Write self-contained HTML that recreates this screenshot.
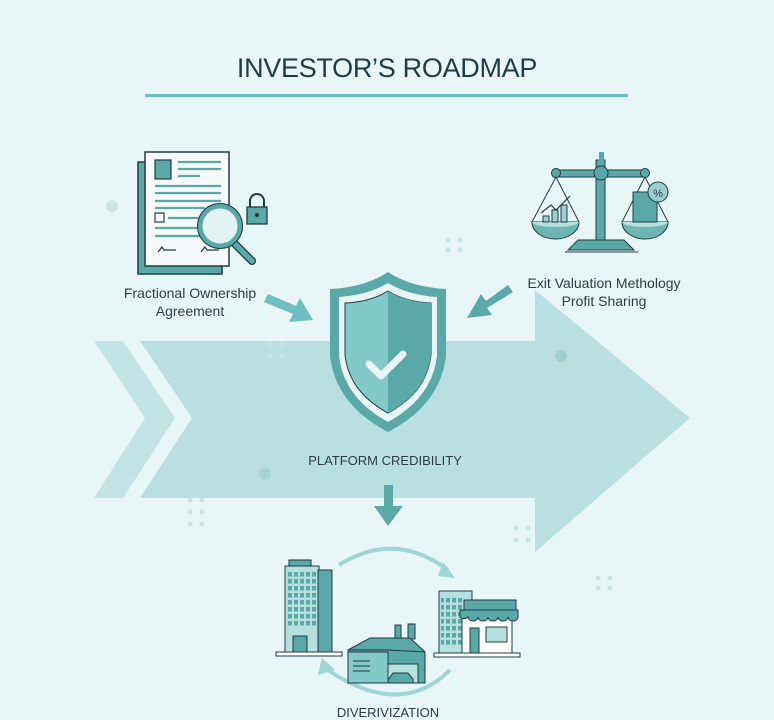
<!DOCTYPE html>
<html><head><meta charset="utf-8"><style>
html,body{margin:0;padding:0;background:#e9f6f7;}
body{width:774px;height:720px;overflow:hidden;position:relative;font-family:"Liberation Sans",sans-serif;}
</style></head><body>
<svg width="774" height="720" viewBox="0 0 774 720" xmlns="http://www.w3.org/2000/svg" style="position:absolute;left:0;top:0">
<rect width="774" height="720" fill="#e9f6f7"/>
<text x="387" y="77" text-anchor="middle" font-family="Liberation Sans" font-size="27" fill="#1f3c44" letter-spacing="-0.3">INVESTOR’S ROADMAP</text>
<rect x="145" y="94" width="483" height="3" fill="#6fbfc2"/>
<polygon points="94,341 123,341 175,418 123,498 94,498 145,418" fill="#c2e3e4"/>
<polygon points="140,341 535,341 535,290 690,418 535,552 535,498 140,498 192,418" fill="#b9dfe0"/>
<circle cx="112" cy="206" r="6" fill="#cfe3e4"/>
<circle cx="561" cy="356" r="6" fill="#9ecfd1"/>
<circle cx="265" cy="474" r="6" fill="#a7d3d5"/>
<g fill="#c9e4e5">
<circle cx="270" cy="344" r="2.5"/><circle cx="282" cy="344" r="2.5"/><circle cx="270" cy="357" r="2.5"/><circle cx="282" cy="357" r="2.5"/>
<circle cx="190" cy="500" r="2.5"/><circle cx="202" cy="500" r="2.5"/><circle cx="190" cy="512" r="2.5"/><circle cx="202" cy="512" r="2.5"/><circle cx="190" cy="524" r="2.5"/><circle cx="202" cy="524" r="2.5"/>
<circle cx="516" cy="528" r="2.5"/><circle cx="528" cy="528" r="2.5"/><circle cx="516" cy="540" r="2.5"/><circle cx="528" cy="540" r="2.5"/>
<circle cx="448" cy="240" r="2.5"/><circle cx="460" cy="240" r="2.5"/><circle cx="448" cy="250" r="2.5"/><circle cx="460" cy="250" r="2.5"/>
<circle cx="598" cy="578" r="2.5"/><circle cx="610" cy="578" r="2.5"/><circle cx="598" cy="588" r="2.5"/><circle cx="610" cy="588" r="2.5"/>
</g>
<rect x="138" y="162" width="84" height="112" fill="#5aa8a8" stroke="#1f3c44" stroke-width="1.5"/>
<rect x="145" y="152" width="84" height="114" fill="#f7fbfb" stroke="#1f3c44" stroke-width="1.5"/>
<rect x="155" y="160" width="16" height="19" fill="#5aa8a8" stroke="#1f3c44" stroke-width="1.2"/>
<g stroke="#5aa8a8" stroke-width="2.2">
<line x1="178" y1="162" x2="221" y2="162"/><line x1="178" y1="169" x2="221" y2="169"/><line x1="178" y1="176" x2="200" y2="176"/>
<line x1="155" y1="186" x2="221" y2="186"/><line x1="155" y1="193" x2="221" y2="193"/><line x1="155" y1="201" x2="221" y2="201"/><line x1="155" y1="208" x2="205" y2="208"/>
<line x1="168" y1="218" x2="200" y2="218"/><line x1="155" y1="228" x2="221" y2="228"/><line x1="155" y1="236" x2="221" y2="236"/>
</g>
<rect x="155" y="213" width="9" height="9" fill="#fff" stroke="#1f3c44" stroke-width="1.2"/>
<path d="M158 252 l4 -5 l2 3 h12 M201 252 l4 -5 l2 3 h12" stroke="#1f3c44" fill="none" stroke-width="1.3"/>
<line x1="233" y1="242" x2="252" y2="261" stroke="#1f3c44" stroke-width="8" stroke-linecap="round"/>
<line x1="233" y1="242" x2="252" y2="261" stroke="#5aa8a8" stroke-width="5.5" stroke-linecap="round"/>
<circle cx="220" cy="226" r="20" fill="#e4f3f3" stroke="#5aa8a8" stroke-width="5"/>
<circle cx="220" cy="226" r="22.5" fill="none" stroke="#1f3c44" stroke-width="1"/>
<path d="M250 208 v-7 a7 7 0 0 1 14 0 v7" fill="none" stroke="#1f3c44" stroke-width="2"/>
<rect x="247" y="207" width="20" height="17" fill="#5aa8a8" stroke="#1f3c44" stroke-width="1.3"/>
<circle cx="257" cy="215" r="2" fill="#1f3c44"/>
<text x="190" y="298" text-anchor="middle" font-size="14" fill="#2b3d42">Fractional Ownership</text>
<text x="190" y="316" text-anchor="middle" font-size="14" fill="#2b3d42">Agreement</text>
<rect x="596" y="160" width="9" height="80" fill="#5aa8a8" stroke="#1f3c44" stroke-width="1"/>
<rect x="553" y="170" width="94" height="7" fill="#5aa8a8" stroke="#1f3c44" stroke-width="1"/>
<circle cx="601" cy="173" r="7" fill="#5aa8a8" stroke="#1f3c44"/>
<circle cx="556" cy="173" r="4.5" fill="#5aa8a8" stroke="#1f3c44"/>
<circle cx="645" cy="173" r="4.5" fill="#5aa8a8" stroke="#1f3c44"/>
<rect x="599" y="152" width="5" height="10" fill="#5aa8a8"/>
<path d="M578 240 h46 l10 10 h-66 z" fill="#5aa8a8" stroke="#1f3c44"/>
<line x1="565" y1="252" x2="638" y2="252" stroke="#1f3c44"/>
<path d="M556 177 L532 222 M556 177 L579 222 M645 177 L622 222 M645 177 L668 222" stroke="#1f3c44" stroke-width="1"/>
<path d="M532 222 h47 a23.5 17 0 0 1 -47 0 z" fill="#6fb5b4" stroke="#1f3c44"/>
<path d="M532 222 h47 a23.5 5 0 0 1 -47 0 z" fill="#b6dfdf"/>
<path d="M622 222 h46 a23 17 0 0 1 -46 0 z" fill="#6fb5b4" stroke="#1f3c44"/>
<path d="M622 222 h46 a23 5 0 0 1 -46 0 z" fill="#b6dfdf"/>
<rect x="543" y="216" width="6" height="6" fill="#9fd0d0" stroke="#1f3c44"/><rect x="552" y="210" width="6" height="12" fill="#9fd0d0" stroke="#1f3c44"/><rect x="561" y="205" width="6" height="17" fill="#9fd0d0" stroke="#1f3c44"/>
<path d="M541 213 l10 -8 l5 5 l14 -14" stroke="#1f3c44" fill="none" stroke-width="1.2"/>
<rect x="633" y="192" width="24" height="30" fill="#5aa8a8" stroke="#1f3c44"/>
<circle cx="658" cy="192" r="10" fill="#9fd0d0" stroke="#1f3c44"/>
<text x="658" y="197" text-anchor="middle" font-size="11" fill="#1f3c44">%</text>
<text x="604" y="288" text-anchor="middle" font-size="14" fill="#2b3d42">Exit Valuation Methology</text>
<text x="604" y="306" text-anchor="middle" font-size="14" fill="#2b3d42">Profit Sharing</text>
<path d="M268 294 L296 306 L300 298 L313 320 L289 322 L293 314 L264 302 Z" fill="#6fbfc2"/>
<path d="M508 285 L486 301 L481 294 L467 318 L492 315 L487 308 L513 292 Z" fill="#5aa8a8"/>
<path d="M388 272 Q410 287 446 289 L446 356 Q440 405 388 432 Q336 405 330 356 L330 289 Q366 287 388 272 Z" fill="#5aa8a8"/>
<path d="M388 283 Q408 295 437 297 L437 356 Q432 398 388 422 Q344 398 339 356 L339 297 Q368 295 388 283 Z" fill="#e8f5f5"/>
<path d="M388 291 Q406 302 431 303 L431 355 Q427 392 388 413 Q349 392 345 355 L345 303 Q370 302 388 291 Z" fill="#84c9c9" stroke="#1f3c44" stroke-width="1"/>
<path d="M388 291 Q406 302 431 303 L431 355 Q427 392 388 413 Z" fill="#5aa8a8"/>
<path d="M369 364 l12 12 l22 -22" stroke="#eaf6f6" stroke-width="7" fill="none" stroke-linecap="round" stroke-linejoin="round"/>
<text x="385" y="465" text-anchor="middle" font-size="13" fill="#2b3d42">PLATFORM CREDIBILITY</text>
<rect x="384" y="485" width="9" height="22" fill="#5aa8a8"/>
<polygon points="374,506 403,506 388,526" fill="#5aa8a8"/>
<path d="M339 565 Q395 530 448 570" stroke="#9fd6d4" stroke-width="4" fill="none"/>
<polygon points="443,562 455,578 438,576" fill="#9fd6d4"/>
<path d="M450 670 Q400 720 325 668" stroke="#9fd6d4" stroke-width="4" fill="none"/>
<polygon points="318,675 322,658 335,670" fill="#9fd6d4"/>
<defs><pattern id="win" x="288" y="572" width="6" height="7" patternUnits="userSpaceOnUse"><rect width="4" height="4.5" fill="#5aa8a8"/></pattern>
<pattern id="win2" x="440" y="598" width="6" height="7" patternUnits="userSpaceOnUse"><rect width="4" height="4.5" fill="#5aa8a8"/></pattern></defs>
<rect x="289" y="560" width="22" height="6" fill="#5aa8a8" stroke="#1f3c44"/>
<rect x="285" y="566" width="34" height="86" fill="#b6dfdf" stroke="#1f3c44"/>
<rect x="318" y="570" width="14" height="82" fill="#5aa8a8" stroke="#1f3c44"/>
<rect x="288" y="572" width="28" height="56" fill="url(#win)"/>
<rect x="293" y="636" width="14" height="16" fill="#5aa8a8" stroke="#1f3c44"/>
<rect x="276" y="652" width="66" height="4" fill="#fff" stroke="#1f3c44"/>
<rect x="439" y="591" width="33" height="62" fill="#b6dfdf" stroke="#1f3c44"/>
<rect x="441" y="598" width="22" height="48" fill="url(#win2)"/>
<rect x="462" y="612" width="50" height="41" fill="#fff" stroke="#1f3c44"/>
<rect x="464" y="600" width="52" height="10" fill="#5aa8a8" stroke="#1f3c44"/>
<path d="M460 610 h58 v7 a5 4 0 0 1 -10 0 a5 4 0 0 1 -10 0 a5 4 0 0 1 -10 0 a5 4 0 0 1 -10 0 a5 4 0 0 1 -10 0 a5 4 0 0 1 -8 0 z" fill="#5aa8a8" stroke="#1f3c44"/>
<rect x="470" y="628" width="9" height="25" fill="#5aa8a8" stroke="#1f3c44"/>
<rect x="486" y="627" width="21" height="15" fill="#b6dfdf" stroke="#1f3c44"/>
<rect x="434" y="653" width="86" height="4" fill="#fff" stroke="#1f3c44"/>
<rect x="395" y="625" width="6" height="14" fill="#5aa8a8" stroke="#1f3c44"/>
<rect x="408" y="624" width="7" height="15" fill="#5aa8a8" stroke="#1f3c44"/>
<path d="M348 650 L370 638 L410 638 L425 652 L425 683 L348 683 Z" fill="#5aa8a8" stroke="#1f3c44"/>
<path d="M348 650 L388 650 L425 652" stroke="#1f3c44" fill="none"/>
<rect x="348" y="652" width="40" height="31" fill="#84c9c9" stroke="#1f3c44"/>
<g stroke="#1f3c44"><line x1="353" y1="661" x2="370" y2="661"/><line x1="353" y1="666" x2="370" y2="666"/><line x1="353" y1="671" x2="370" y2="671"/></g>
<rect x="388" y="664" width="30" height="19" fill="#b6dfdf" stroke="#1f3c44"/>
<path d="M388 680 l5 -7 h15 l5 6 v4 h-25z" fill="#5aa8a8" stroke="#1f3c44"/>
<text x="388" y="717" text-anchor="middle" font-size="13" fill="#2b3d42">DIVERIVIZATION</text>
</svg>
</body></html>
